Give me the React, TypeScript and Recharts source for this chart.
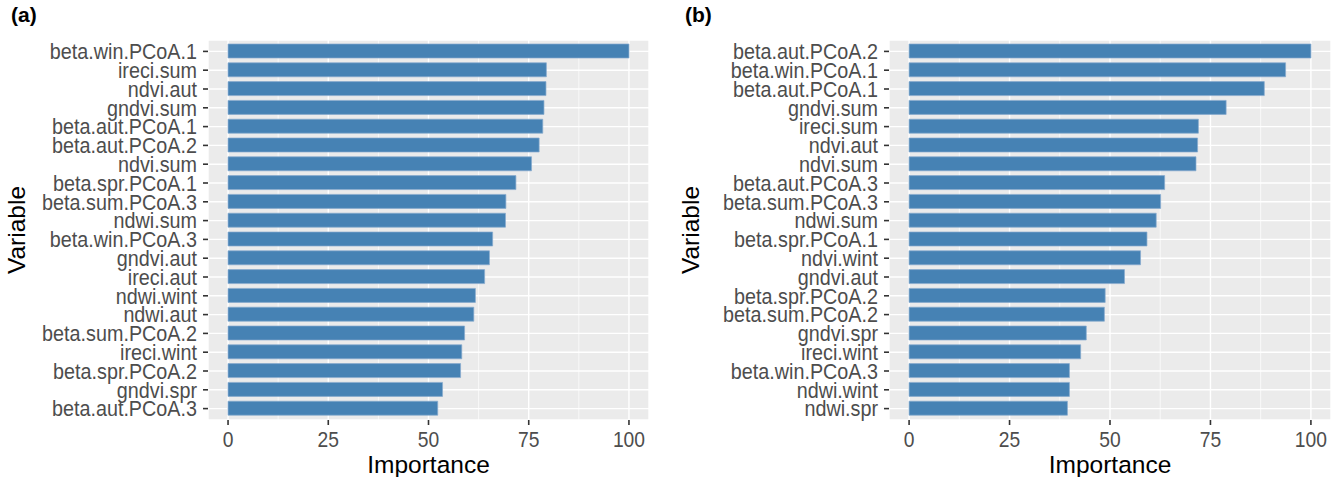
import { BarChart, Bar, XAxis, YAxis, CartesianGrid } from "recharts";

const namesA = [
  "beta.win.PCoA.1", "ireci.sum", "ndvi.aut", "gndvi.sum", "beta.aut.PCoA.1",
  "beta.aut.PCoA.2", "ndvi.sum", "beta.spr.PCoA.1", "beta.sum.PCoA.3", "ndwi.sum",
  "beta.win.PCoA.3", "gndvi.aut", "ireci.aut", "ndwi.wint", "ndwi.aut",
  "beta.sum.PCoA.2", "ireci.wint", "beta.spr.PCoA.2", "gndvi.spr", "beta.aut.PCoA.3",
];
const valuesA = [
  100, 79.4, 79.3, 78.8, 78.5, 77.6, 75.7, 71.8, 69.3, 69.2,
  66.0, 65.2, 64.0, 61.7, 61.3, 59.0, 58.3, 58.0, 53.5, 52.3,
];

const namesB = [
  "beta.aut.PCoA.2", "beta.win.PCoA.1", "beta.aut.PCoA.1", "gndvi.sum", "ireci.sum",
  "ndvi.aut", "ndvi.sum", "beta.aut.PCoA.3", "beta.sum.PCoA.3", "ndwi.sum",
  "beta.spr.PCoA.1", "ndvi.wint", "gndvi.aut", "beta.spr.PCoA.2", "beta.sum.PCoA.2",
  "gndvi.spr", "ireci.wint", "beta.win.PCoA.3", "ndwi.wint", "ndwi.spr",
];
const valuesB = [
  100, 93.7, 88.4, 78.9, 72.0, 71.8, 71.4, 63.6, 62.6, 61.5,
  59.2, 57.6, 53.6, 48.8, 48.6, 44.1, 42.7, 39.9, 39.9, 39.4,
];

const majorTicks = [0, 25, 50, 75, 100];
const minorTicks = [12.5, 37.5, 62.5, 87.5];

const FONT = "'Liberation Sans', Arial, Helvetica, sans-serif";

// tick labels in the reference are a bit condensed, so squeeze them horizontally
const YTick = (props: any) => {
  const { x, y, payload } = props;
  return (
    <g transform={`translate(${x},${y})`}>
      <text
        transform="scale(0.92,1)"
        textAnchor="end"
        dy="0.36em"
        fontSize={21.5}
        fill="#4D4D4D"
        fontFamily={FONT}
      >
        {payload.value}
      </text>
    </g>
  );
};

const XTick = (props: any) => {
  const { x, y, payload } = props;
  return (
    <g transform={`translate(${x},${y})`}>
      <text
        transform="scale(0.875,1)"
        textAnchor="middle"
        dy="0.72em"
        fontSize={22}
        fill="#4D4D4D"
        fontFamily={FONT}
      >
        {payload.value}
      </text>
    </g>
  );
};

const XTitle = (props: any) => {
  const { viewBox } = props;
  return (
    <text
      x={viewBox.x + viewBox.width / 2}
      y={viewBox.y + viewBox.height - 4}
      textAnchor="middle"
      fontSize={24.5}
      fill="#000"
      fontFamily={FONT}
    >
      Importance
    </text>
  );
};

const YTitle = (props: any) => {
  const { viewBox } = props;
  const cx = 25;
  const cy = viewBox.y + viewBox.height / 2;
  return (
    <text
      x={cx}
      y={cy}
      transform={`rotate(-90, ${cx}, ${cy})`}
      textAnchor="middle"
      fontSize={24.5}
      fill="#000"
      fontFamily={FONT}
    >
      Variable
    </text>
  );
};

type PanelProps = {
  names: string[];
  values: number[];
  tag: string;
  left: number;
  width: number;
  axisWidth: number;
  rightMargin: number;
};

const Panel = ({ names, values, tag, left, width, axisWidth, rightMargin }: PanelProps) => {
  const data = names.map((n, i) => ({ name: n, value: values[i] }));
  return (
    <div style={{ position: "absolute", left, top: 0, width, height: 477 }}>
      <div
        style={{
          position: "absolute",
          left: 11,
          top: 3,
          fontFamily: FONT,
          fontWeight: "bold",
          fontSize: 21,
          color: "#000",
        }}
      >
        {tag}
      </div>
      <BarChart
        width={width}
        height={477}
        data={data}
        layout="vertical"
        margin={{ top: 40, right: rightMargin, bottom: 0, left: 0 }}
        barCategoryGap={0}
      >
        <CartesianGrid
          fill="#EBEBEB"
          stroke="#FFFFFF"
          strokeWidth={0.7}
          horizontal={false}
          verticalValues={minorTicks}
        />
        <CartesianGrid fill="none" stroke="#FFFFFF" strokeWidth={1.4} />
        <XAxis
          type="number"
          dataKey="value"
          domain={[-5, 105]}
          ticks={majorTicks}
          interval={0}
          height={57}
          axisLine={false}
          tickSize={5}
          tickMargin={6}
          tickLine={{ stroke: "#333333", strokeWidth: 1.6 }}
          tick={<XTick />}
          label={<XTitle />}
        />
        <YAxis
          type="category"
          dataKey="name"
          width={axisWidth}
          interval={0}
          padding={{ top: 2, bottom: 2 }}
          axisLine={false}
          tickSize={5}
          tickMargin={6}
          tickLine={{ stroke: "#333333", strokeWidth: 1.6 }}
          tick={<YTick />}
          label={<YTitle />}
        />
        <Bar
          dataKey="value"
          fill="#4682B4"
          stroke="#86ABCE"
          strokeWidth={0.7}
          barSize={14}
          isAnimationActive={false}
        />
      </BarChart>
    </div>
  );
};

export default function App() {
  return (
    <div
      style={{
        position: "absolute",
        left: 0,
        top: 0,
        width: 1341,
        height: 477,
        background: "#FFFFFF",
        overflow: "hidden",
      }}
    >
      <Panel names={namesA} values={valuesA} tag="(a)" left={0} width={660} axisWidth={208} rightMargin={11} />
      <Panel names={namesB} values={valuesB} tag="(b)" left={674} width={667} axisWidth={215} rightMargin={10} />
    </div>
  );
}
